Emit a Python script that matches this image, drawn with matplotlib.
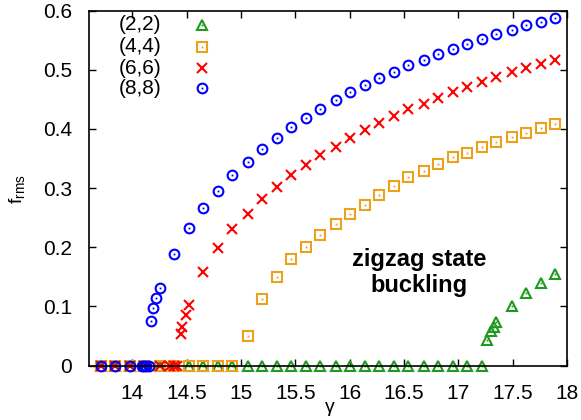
import matplotlib
matplotlib.use("Agg")
import matplotlib.pyplot as plt
from matplotlib.ticker import FormatStrFormatter

plt.rcParams['font.family'] = ['Liberation Sans', 'DejaVu Sans']

# (2,2) mode
g22 = [13.71, 13.84, 13.98, 14.11, 14.25, 14.38, 14.52, 14.65, 14.79, 14.92,
       15.06, 15.19, 15.33, 15.46, 15.60, 15.73, 15.87, 16.00, 16.14, 16.27,
       16.41, 16.54, 16.68, 16.81, 16.95, 17.08, 17.22, 17.26, 17.30, 17.33,
       17.35, 17.49, 17.62, 17.76, 17.89]
f22 = [0, 0, 0, 0, 0, 0, 0, 0, 0, 0,
       0, 0, 0, 0, 0, 0, 0, 0, 0, 0,
       0, 0, 0, 0, 0, 0, 0, 0.043, 0.058, 0.066,
       0.073, 0.101, 0.122, 0.140, 0.155]

# (4,4) mode
g44 = [13.71, 13.84, 13.98, 14.11, 14.25, 14.38, 14.52, 14.65, 14.79, 14.92,
       15.06, 15.19, 15.33, 15.46, 15.60, 15.73, 15.87, 16.00, 16.14, 16.27,
       16.41, 16.54, 16.68, 16.81, 16.95, 17.08, 17.22, 17.35, 17.49, 17.62,
       17.76, 17.89]
f44 = [0, 0, 0, 0, 0, 0, 0, 0, 0, 0,
       0.050, 0.112, 0.150, 0.180, 0.201, 0.221, 0.239, 0.256, 0.272, 0.288,
       0.304, 0.318, 0.329, 0.341, 0.353, 0.360, 0.369, 0.378, 0.387, 0.394,
       0.402, 0.409]

# (6,6) mode
g66 = [13.71, 13.84, 13.98, 14.11, 14.25, 14.35, 14.38, 14.41, 14.45, 14.46,
       14.49, 14.52, 14.65, 14.79, 14.92, 15.06, 15.19, 15.33, 15.46, 15.60,
       15.73, 15.87, 16.00, 16.14, 16.27, 16.41, 16.54, 16.68, 16.81, 16.95,
       17.08, 17.22, 17.35, 17.49, 17.62, 17.76, 17.89]
f66 = [0, 0, 0, 0, 0, 0, 0, 0, 0.053, 0.066,
       0.085, 0.102, 0.158, 0.198, 0.231, 0.257, 0.281, 0.302, 0.322, 0.339,
       0.356, 0.370, 0.385, 0.399, 0.410, 0.422, 0.433, 0.443, 0.453, 0.463,
       0.471, 0.480, 0.488, 0.496, 0.503, 0.510, 0.516]

# (8,8) mode
g88 = [13.71, 13.84, 13.98, 14.09, 14.11, 14.13, 14.15, 14.17, 14.19, 14.22,
       14.25, 14.38, 14.52, 14.65, 14.79, 14.92, 15.06, 15.19, 15.33, 15.46,
       15.60, 15.73, 15.87, 16.00, 16.14, 16.27, 16.41, 16.54, 16.68, 16.81,
       16.95, 17.08, 17.22, 17.35, 17.49, 17.62, 17.76, 17.89]
f88 = [0, 0, 0, 0, 0, 0, 0, 0.076, 0.098, 0.115,
       0.131, 0.189, 0.232, 0.266, 0.296, 0.322, 0.345, 0.366, 0.385, 0.404,
       0.419, 0.434, 0.449, 0.462, 0.475, 0.486, 0.497, 0.508, 0.517, 0.527,
       0.535, 0.544, 0.552, 0.560, 0.567, 0.575, 0.581, 0.588]

labels = ['(2,2)', '(4,4)', '(6,6)', '(8,8)']
colors = ['#1f9a1f', '#eba21a', '#ff0000', '#0000ff']
markers = ['^', 's', 'x', 'o']
sizes = [7, 6.5, 6.5, 7]
dotted = [True, True, False, True]
series = [(g22, f22), (g44, f44), (g66, f66), (g88, f88)]

fig = plt.figure(figsize=(5.81, 4.20), dpi=100)
ax = fig.add_axes([0.153, 0.1296, 0.823, 0.8449])

for (x, y), c, m, s, d in zip(series, colors, markers, sizes, dotted):
    ax.plot(x, y, ls='none', marker=m, ms=s, mfc='none', mec=c, mew=1.5,
            clip_on=False)
    if d:
        ax.plot(x, y, ls='none', marker='s', ms=1.3, mfc=c, mec=c, mew=0,
                clip_on=False)

# key in the upper left corner
key_y = [0.576, 0.539, 0.503, 0.469]
for lab, c, m, s, d, ky in zip(labels, colors, markers, sizes, dotted, key_y):
    ax.text(14.27, ky, lab, ha='right', va='center', fontsize=15)
    ax.plot([14.64], [ky], ls='none', marker=m, ms=s, mfc='none', mec=c,
            mew=1.5)
    if d:
        ax.plot([14.64], [ky], ls='none', marker='s', ms=1.3, mfc=c, mec=c,
                mew=0)

ax.text(16.64, 0.157, 'zigzag state\nbuckling', ha='center', va='center',
        fontsize=17, fontweight='bold', linespacing=1.15)

ax.set_xlim(13.6, 18)
ax.set_ylim(0, 0.6)
ax.set_xticks([14, 14.5, 15, 15.5, 16, 16.5, 17, 17.5, 18])
ax.set_yticks([0, 0.1, 0.2, 0.3, 0.4, 0.5, 0.6])
ax.xaxis.set_major_formatter(FormatStrFormatter('%g'))
ax.yaxis.set_major_formatter(FormatStrFormatter('%g'))
ax.tick_params(direction='in', top=True, right=True, length=5, width=1,
               labelsize=15)
ax.tick_params(axis='x', pad=13)
ax.tick_params(axis='y', pad=12)
for sp in ax.spines.values():
    sp.set_linewidth(1.2)

ax.set_xlabel('γ', fontsize=14)
ax.set_ylabel(r'f$_{\mathregular{rms}}$', fontsize=14)
ax.xaxis.set_label_coords(0.504, -0.093)
ax.yaxis.set_label_coords(-0.128, 0.496)

fig.savefig('out.png', dpi=100)
